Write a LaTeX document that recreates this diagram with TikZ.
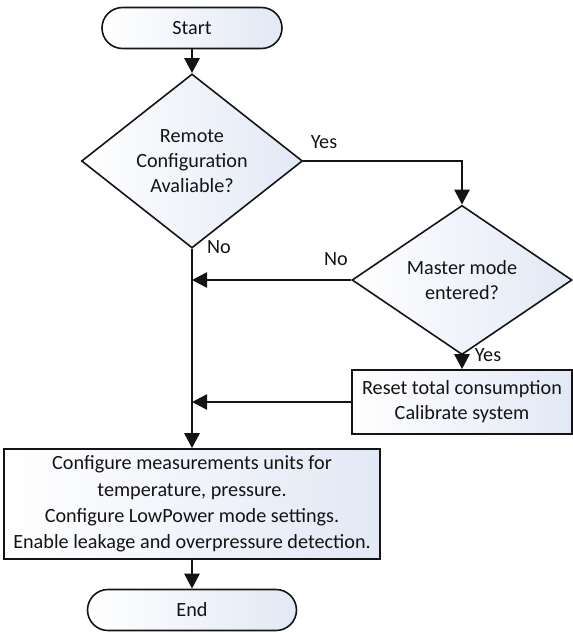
\documentclass[tikz,border=0pt]{standalone}
\usepackage{fontspec}
\setmainfont{Carlito}
\usetikzlibrary{arrows.meta,shapes.geometric}
\definecolor{boxshade}{RGB}{226,232,245}
\definecolor{ink}{RGB}{20,20,20}
\tikzset{
  shadedbox/.style={draw=ink, line width=1.6pt, left color=white, right color=boxshade,
    font=\fontsize{20.2}{24.8}\selectfont, text=ink, align=center, inner sep=0pt},
  terminal/.style={shadedbox, rectangle, rounded corners=20.5pt},
  decision/.style={shadedbox, diamond},
  process/.style={shadedbox, rectangle},
  flow/.style={draw=ink, line width=2.6pt, -{Triangle[width=15pt,length=15pt]}},
  lbl/.style={font=\fontsize{20.2}{24.8}\selectfont, text=ink, inner sep=0pt}
}
\begin{document}
\begin{tikzpicture}[x=1pt,y=-1pt]
\useasboundingbox (0,0) rectangle (573,632);

% nodes
\node[terminal, minimum width=180pt, minimum height=41pt] (start) at (192,28) {Start};
\node[decision, minimum width=221pt, minimum height=143pt] (d1) at (192,161)
  {Remote\\Configuration\\Avaliable?};
\node[decision, minimum width=220pt, minimum height=110pt] (d2) at (462,280)
  {Master mode\\entered?};
\node[process, minimum width=220pt, minimum height=64pt] (reset) at (462,402)
  {Reset total consumption\\Calibrate system};
\node[process, minimum width=376pt, minimum height=110pt,
  font=\fontsize{20.2}{26.3}\selectfont] (cfg) at (192,504)
  {Configure measurements units for\\temperature, pressure.\\Configure LowPower mode settings.\\Enable leakage and overpressure detection.};
\node[terminal, minimum width=209pt, minimum height=41pt] (end) at (192,610) {End};

% junction points on the main vertical line
\coordinate (j1) at (d1.south |- d2.west);
\coordinate (j2) at (d1.south |- reset.west);

% connectors
\draw[flow] (start) -- (d1);
\draw[flow] (d1.east) -| (d2.north);
\draw[flow] (d1.south) -- (cfg.north);
\draw[flow] (d2.west) -- (j1);
\draw[flow] (d2.south) -- (reset.north);
\draw[flow] (reset.west) -- (j2);
\draw[flow] (cfg.south) -- (end.north);

% branch labels
\node[lbl] (yes1) at (324,142) {Yes};
\node[lbl] (no1) at (219,247) {No};
\node[lbl] (no2) at (336,259) {No};
\node[lbl] (yes2) at (488,355) {Yes};
\end{tikzpicture}
\end{document}
